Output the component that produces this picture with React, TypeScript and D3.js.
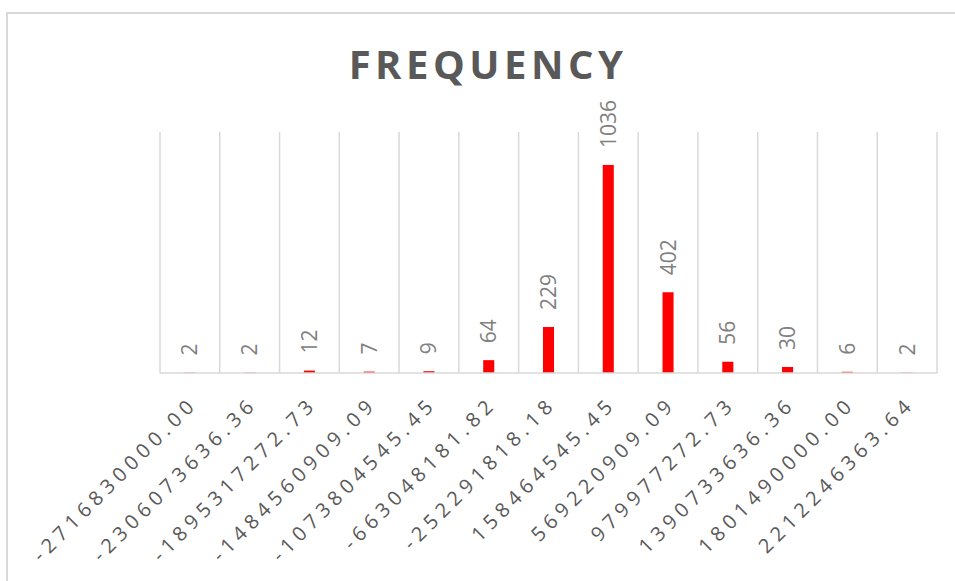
import React from "react";
import * as d3 from "d3";

const categories: string[] = [
  "-2716830000.00",
  "-2306073636.36",
  "-1895317272.73",
  "-1484560909.09",
  "-1073804545.45",
  "-663048181.82",
  "-252291818.18",
  "158464545.45",
  "569220909.09",
  "979977272.73",
  "1390733636.36",
  "1801490000.00",
  "2212246363.64",
];
const frequencies: number[] = [2, 2, 12, 7, 9, 64, 229, 1036, 402, 56, 30, 6, 2];
const titleText = "FREQUENCY";
const yMax = 1200;

const W = 955;
const H = 581;
const plot = { left: 160, right: 937, top: 132, bottom: 373 };
const FONT = "'Open Sans', 'Noto Sans', sans-serif";

export default function App() {
  const x = d3
    .scaleBand<string>()
    .domain(categories)
    .range([plot.left, plot.right])
    .paddingInner(0.815)
    .paddingOuter(0.4075);
  const xEdges = d3
    .scaleLinear()
    .domain([0, categories.length])
    .range([plot.left, plot.right]);
  const y = d3.scaleLinear().domain([0, yMax]).range([plot.bottom, plot.top]);
  const step = (plot.right - plot.left) / categories.length;

  return (
    <svg
      width={W}
      height={H}
      style={{ position: "fixed", left: 0, top: 0, background: "#fff" }}
    >
      <rect x={0} y={0} width={W} height={H} fill="#fff" />
      {/* chart border */}
      <path d={`M7,${H} V13 H${W}`} fill="none" stroke="#d9d9d9" strokeWidth={2} />
      {/* title */}
      <text
        x={488}
        y={79}
        textAnchor="middle"
        fontFamily={FONT}
        fontWeight={700}
        fontSize={40}
        letterSpacing={4.5}
        fill="#595959"
      >
        {titleText}
      </text>
      {/* vertical gridlines */}
      {d3.range(categories.length + 1).map((i) => (
        <line
          key={"g" + i}
          x1={xEdges(i)}
          x2={xEdges(i)}
          y1={plot.top}
          y2={plot.bottom}
          stroke="#d9d9d9"
          strokeWidth={1.5}
        />
      ))}
      {/* bars */}
      {categories.map((c, i) => (
        <rect
          key={"b" + i}
          x={x(c)}
          width={x.bandwidth()}
          y={y(frequencies[i])}
          height={plot.bottom - y(frequencies[i])}
          fill="#ff0000"
        />
      ))}
      {/* baseline */}
      <line
        x1={plot.left}
        x2={plot.right}
        y1={plot.bottom}
        y2={plot.bottom}
        stroke="#d9d9d9"
        strokeWidth={1.5}
      />
      {/* value labels */}
      {categories.map((c, i) => {
        const cx = (x(c) as number) + x.bandwidth() / 2;
        const ty = y(frequencies[i]) - 17;
        return (
          <text
            key={"v" + i}
            transform={`translate(${cx + 7.5},${ty}) rotate(-90)`}
            fontFamily={FONT}
            fontSize={21}
            fill="#808080"
            textAnchor="start"
          >
            {frequencies[i]}
          </text>
        );
      })}
      {/* category labels */}
      {categories.map((c, i) => {
        const cx = xEdges(i) + step / 2;
        return (
          <text
            key={"c" + i}
            transform={`translate(${cx + 9},${405}) rotate(-45)`}
            fontFamily={FONT}
            fontSize={20}
            letterSpacing={5.3}
            fill="#595959"
            textAnchor="end"
          >
            {c}
          </text>
        );
      })}
    </svg>
  );
}
